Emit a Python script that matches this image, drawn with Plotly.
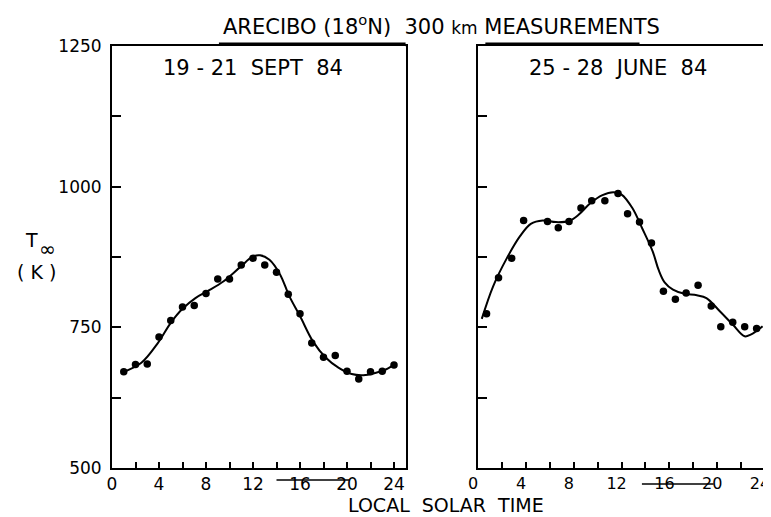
import plotly.graph_objects as go

# ---- data ----
sept_hours = [1, 2, 3, 4, 5, 6, 7, 8, 9, 10, 11, 12, 13, 14, 15, 16, 17, 18, 19, 20, 21, 22, 23, 24]
sept_temp = [671, 684, 685, 733, 762, 786, 789, 810, 836, 836, 861, 873, 861, 848, 809, 774, 722, 697, 700, 672, 658, 671, 672, 683]

sept_fit_hours = [0.9, 2.5, 3.9, 5.0, 6.0, 7.1, 8.1, 9.5, 10.9, 12.0, 12.6, 13.4, 14.3, 15.1, 16.0, 17.1, 18.2, 19.3, 20.4, 21.4, 22.4, 23.3, 24.1]
sept_fit_temp = [670, 687, 722, 758, 783, 802, 814, 832, 857, 876, 878, 870, 844, 805, 770, 725, 696, 678, 667, 665, 669, 675, 685]

june_hours = [0.7, 1.7, 2.8, 3.8, 5.8, 6.7, 7.6, 8.6, 9.5, 10.6, 11.7, 12.5, 13.5, 14.5, 15.5, 16.5, 17.4, 18.4, 19.5, 20.3, 21.3, 22.3, 23.3]
june_temp = [774, 838, 873, 940, 938, 927, 938, 962, 975, 975, 988, 952, 937, 900, 814, 800, 811, 825, 788, 751, 759, 751, 748]

june_fit_hours = [0.3, 1.25, 2.4, 3.5, 4.4, 5.4, 6.5, 7.6, 8.4, 9.4, 10.4, 11.3, 12.0, 12.9, 13.7, 14.6, 15.1, 15.6, 16.3, 17.2, 18.3, 19.1, 20.2, 21.3, 22.3, 22.8, 23.8]
june_fit_temp = [765, 823, 873, 912, 934, 940, 937, 939, 950, 971, 985, 990, 986, 962, 927, 885, 852, 830, 817, 810, 807, 802, 779, 755, 734, 737, 752]

x_tickvals = [0, 2, 4, 6, 8, 10, 12, 14, 16, 18, 20, 22, 24]
x_ticktext = ["0", "", "4", "", "8", "", "12", "", "16", "", "20", "", "24"]
y_tickvals = [500, 625, 750, 875, 1000, 1125, 1250]
y_ticktext = ["500", "", "750", "", "1000", "", "1250"]

title_text = "ARECIBO (18<sup>o</sup>N)  300 <span style='font-size:17px'>km</span> MEASUREMENTS"
left_label = "19 - 21  SEPT  84"
right_label = "25 - 28  JUNE  84"
x_title = "LOCAL  SOLAR  TIME"
y_title_t = "T"
y_title_inf = "∞"
y_title_k = "( K )"

FONT = "DejaVu Sans"
W, H = 771, 517
ML, MR, MT, MB = 104, 9, 38, 57
pw = W - ML - MR

fig = go.Figure()

for xs, ys, fx, fy, xa, ya in [
    (sept_hours, sept_temp, sept_fit_hours, sept_fit_temp, "x", "y"),
    (june_hours, june_temp, june_fit_hours, june_fit_temp, "x2", "y2"),
]:
    fig.add_trace(go.Scatter(x=fx, y=fy, mode="lines", line=dict(color="black", width=2, shape="spline", smoothing=1.0),
                             xaxis=xa, yaxis=ya, showlegend=False, hoverinfo="skip"))
    fig.add_trace(go.Scatter(x=xs, y=ys, mode="markers", marker=dict(color="black", size=7.5),
                             xaxis=xa, yaxis=ya, showlegend=False))

d1 = [0, (400 - ML) / pw]
d2 = [(473 - ML) / pw, 1]

axis_common = dict(showgrid=False, zeroline=False, showline=True, linecolor="black", linewidth=2,
                   mirror=True, ticks="inside", tickcolor="black", tickwidth=1.5)

fig.update_layout(
    width=W, height=H,
    margin=dict(l=ML, r=MR, t=MT, b=MB),
    paper_bgcolor="white", plot_bgcolor="white",
    xaxis=dict(domain=d1, range=[0, 25], tickvals=x_tickvals, ticktext=x_ticktext, ticklen=6, anchor="y",
               ticklabelstandoff=0, tickfont=dict(family=FONT, size=17, color="black"), **axis_common),
    yaxis=dict(domain=[0, 1], range=[500, 1250], tickvals=y_tickvals, ticktext=y_ticktext, ticklen=9, anchor="x",
               ticklabelstandoff=5, tickfont=dict(family=FONT, size=17, color="black"), **axis_common),
    xaxis2=dict(domain=d2, range=[0, 24], tickvals=x_tickvals, ticktext=x_ticktext, ticklen=6, anchor="y2",
                ticklabelstandoff=0, ticklabelshift=-5, tickfont=dict(family=FONT, size=16, color="black"),
                **axis_common),
    yaxis2=dict(domain=[0, 1], range=[500, 1250], tickvals=y_tickvals, ticktext=[""] * len(y_tickvals), ticklen=9,
                anchor="x2", **axis_common),
)

def px_x(p):
    return (p - ML) / pw

def px_y(p):
    return 1 - (p - MT) / (H - MT - MB)

annots = [
    dict(text=title_text, x=px_x(436), y=px_y(17), size=21),
    dict(text=left_label, x=px_x(246), y=px_y(60), size=21),
    dict(text=right_label, x=px_x(614), y=px_y(60), size=21),
    dict(text=x_title, x=px_x(441), y=px_y(497), size=19),
    dict(text=y_title_t, x=px_x(23), y=px_y(232), size=19),
    dict(text=y_title_inf, x=px_x(39), y=px_y(241), size=20),
    dict(text=y_title_k, x=px_x(28), y=px_y(264), size=19),
]
for a in annots:
    fig.add_annotation(text=a["text"], x=a["x"], y=a["y"], xref="paper", yref="paper", showarrow=False,
                       xanchor="center", yanchor="middle", borderpad=0,
                       font=dict(family=FONT, size=a["size"], color="black"))

# scan artifacts: stray underline strokes
fig.add_shape(type="line", xref="x", yref="paper", x0=14.0, x1=20.2, y0=px_y(472), y1=px_y(472), line=dict(color="black", width=1.5))
fig.add_shape(type="line", xref="x2", yref="paper", x0=13.7, x1=19.7, y0=px_y(476), y1=px_y(476), line=dict(color="black", width=1.5))
fig.add_shape(type="line", xref="x", yref="paper", x0=25, x1=27.7, y0=1, y1=1, line=dict(color="black", width=1.5))
fig.add_shape(type="line", xref="x", yref="paper", x0=9.1, x1=25, y0=px_y(36), y1=px_y(36), line=dict(color="black", width=3))
fig.add_shape(type="line", xref="x2", yref="paper", x0=0.6, x1=13.5, y0=px_y(36), y1=px_y(36), line=dict(color="black", width=3))

fig.write_html("out.html")
